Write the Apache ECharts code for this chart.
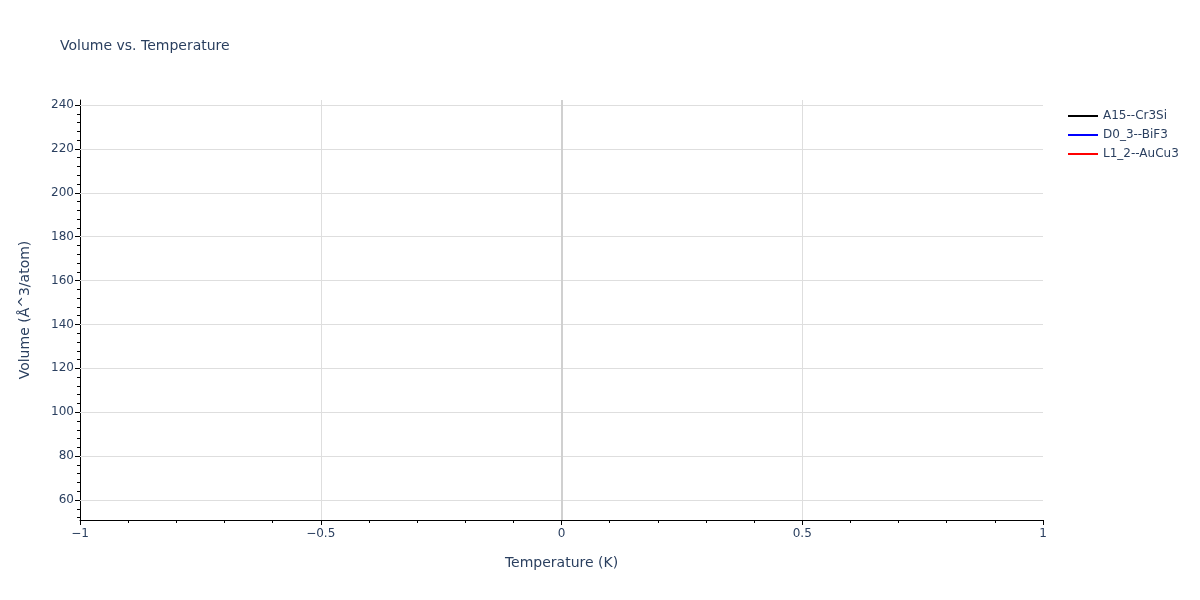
<!DOCTYPE html>
<html>
<head>
<meta charset="utf-8">
<script src="https://cdn.jsdelivr.net/npm/echarts@6/dist/echarts.min.js"></script>
<style>
  html, body { margin: 0; padding: 0; background: #fff; }
  #chart { width: 1200px; height: 600px; }
</style>
</head>
<body>
<div id="chart"></div>
<script>
// series names and colours from the legend
const seriesNames = ['A15--Cr3Si', 'D0_3--BiF3', 'L1_2--AuCu3'];
const seriesColors = ['#000000', '#0000ff', '#ff0000'];
// every structure only has a point at T = 0, so nothing shows up
const temperatures = [0];
const volumes = [[233.6], [120.0], [59.6]];

const yTicks = [60, 80, 100, 120, 140, 160, 180, 200, 220, 240];
const yMinorTicks = [];
for (let v = 52; v <= 242; v += 4) yMinorTicks.push(v);
const yRange = [50.9, 242.3];

const fontFamily = '"DejaVu Sans", verdana, arial, sans-serif';
const textColor = '#2a3f5f';

const myChart = echarts.init(document.getElementById('chart'));

const series = seriesNames.map((name, i) => ({
  name: name,
  type: 'line',
  symbol: 'none',
  lineStyle: { color: seriesColors[i], width: 2 },
  itemStyle: { color: seriesColors[i] },
  data: temperatures.map((t, j) => [t, volumes[i][j]])
}));

// grid lines and the zero line, drawn in data coordinates
series.push({
  name: 'grid',
  type: 'line',
  data: [],
  silent: true,
  markLine: {
    silent: true,
    symbol: 'none',
    label: { show: false },
    animation: false,
    data: yTicks.map(v => ({ yAxis: v, lineStyle: { color: '#dedede', width: 1, type: 'solid' } }))
      .concat([
        { xAxis: -0.5, lineStyle: { color: '#dedede', width: 1, type: 'solid' } },
        { xAxis: 0.5, lineStyle: { color: '#dedede', width: 1, type: 'solid' } },
        { xAxis: 0, lineStyle: { color: '#d0d0d0', width: 2, type: 'solid' } }
      ])
  }
});

const option = {
  animation: false,
  textStyle: { fontFamily: fontFamily },
  title: {
    text: 'Volume vs. Temperature',
    left: 55,
    top: 34,
    textStyle: { fontFamily: fontFamily, fontSize: 14, fontWeight: 'normal', color: textColor }
  },
  legend: {
    orient: 'vertical',
    left: 1062,
    top: 104,
    itemWidth: 30,
    itemHeight: 14,
    itemGap: 5,
    data: seriesNames,
    itemStyle: { opacity: 0, borderWidth: 0 },
    textStyle: { fontFamily: fontFamily, fontSize: 12, color: textColor, lineHeight: 14 }
  },
  grid: { left: 80, right: 157, top: 100, bottom: 80 },
  xAxis: {
    type: 'value',
    min: -1,
    max: 1,
    interval: 0.5,
    name: 'Temperature (K)',
    nameLocation: 'middle',
    nameGap: 36,
    nameTextStyle: { fontFamily: fontFamily, fontSize: 14, color: textColor },
    axisLine: { show: true, onZero: false, lineStyle: { color: '#000', width: 1 } },
    axisTick: { show: true, inside: false, length: 5, lineStyle: { color: '#000' } },
    minorTick: { show: true, splitNumber: 5, length: 3, lineStyle: { color: '#000' } },
    axisLabel: {
      color: textColor,
      fontSize: 12,
      margin: 8,
      formatter: v => String(v).replace('-', '\u2212')
    },
    splitLine: { show: false }
  },
  yAxis: [{
    type: 'value',
    min: yRange[0],
    max: yRange[1],
    name: 'Volume (Å^3/atom)',
    nameLocation: 'middle',
    nameGap: 48,
    nameTextStyle: { fontFamily: fontFamily, fontSize: 14, color: textColor },
    axisLine: { show: true, onZero: false, lineStyle: { color: '#000', width: 1 } },
    axisTick: { show: true, inside: false, length: 5, customValues: yTicks, lineStyle: { color: '#000' } },
    axisLabel: { color: textColor, fontSize: 12, margin: 6, customValues: yTicks },
    splitLine: { show: false }
  }, {
    // overlay axis only for the minor ticks
    type: 'value',
    position: 'left',
    offset: 0,
    min: yRange[0],
    max: yRange[1],
    axisLine: { show: false, onZero: false },
    axisTick: { show: true, inside: false, length: 3, customValues: yMinorTicks, lineStyle: { color: '#000' } },
    axisLabel: { show: false },
    splitLine: { show: false }
  }],
  series: series
};

myChart.setOption(option);
</script>
</body>
</html>
